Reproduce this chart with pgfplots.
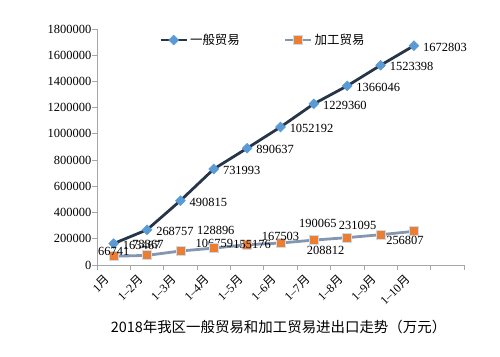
\documentclass[border=0pt]{standalone}
\usepackage{fontspec}
\setmainfont{Liberation Serif}
\newfontfamily\cjk{Noto Sans CJK SC}
\usepackage{pgfplots}
\pgfplotsset{compat=1.18}
\usepackage{pgfplotstable}

\definecolor{gen}{HTML}{263548}
\definecolor{genm}{HTML}{5B9BD5}
\definecolor{proc}{HTML}{8497B0}
\definecolor{procm}{HTML}{ED7D31}
\definecolor{procb}{HTML}{C9DCEF}
\definecolor{axisgray}{HTML}{A6A6A6}

\pgfplotstableread{
x y lab dx dy
0 163467 163467 9 -1.5
1 268757 268757 9 -1.5
2 490815 490815 9 -1.5
3 731993 731993 9 -1.5
4 890637 890637 9 -1.5
5 1052192 1052192 9 -1.5
6 1229360 1229360 9 -1.5
7 1366046 1366046 9 -1.5
8 1523398 1523398 9 -1.5
9 1672803 1672803 9 -1.5
}\gendata

\pgfplotstableread{
x y lab dx dy
0 66741 66741 0 4.5
1 73367 73367 1 11
2 106759 106759 34 7.7
3 128896 128896 2 18
4 155176 155176 5 0
5 167503 167503 0 7
6 190065 190065 4 17
7 208812 208812 -21.6 -12.4
8 231095 231095 -23 9.7
9 256807 256807 -9 -8.6
}\procdata

\begin{document}
\begin{tikzpicture}
\useasboundingbox (-97bp,-92bp) rectangle (403bp,265bp);
\begin{axis}[
  at={(0,0)}, anchor=south west,
  scale only axis,
  width=367bp, height=236bp,
  xmin=-0.5, xmax=10.5,
  ymin=0, ymax=1800000,
  clip=false,
  axis x line*=bottom, axis y line*=left,
  axis line style={axisgray, line width=1bp, -},
  tick style={axisgray, line width=0.8bp},
  tick align=outside,
  major tick length=4.5bp,
  xtick={-0.5,0.5,1.5,2.5,3.5,4.5,5.5,6.5,7.5,8.5,9.5,10.5},
  xticklabels={},
  extra x ticks={0,1,2,3,4,5,6,7,8,9},
  extra x tick labels={1{\cjk 月},1–2{\cjk 月},1–3{\cjk 月},1–4{\cjk 月},1–5{\cjk 月},1–6{\cjk 月},1–7{\cjk 月},1–8{\cjk 月},1–9{\cjk 月},1–10{\cjk 月}},
  extra x tick style={major tick length=0pt},
  xticklabel style={xshift=-10bp, yshift=-8.5bp, rotate=45, anchor=north east, inner sep=0pt, font=\fontsize{12}{14}\selectfont, text=black},
  ytick={0,200000,400000,600000,800000,1000000,1200000,1400000,1600000,1800000},
  yticklabels={0,200000,400000,600000,800000,1000000,1200000,1400000,1600000,1800000},
  yticklabel style={font=\fontsize{12.5}{14}\selectfont, text=black, inner sep=0pt, xshift=-1bp},
  scaled y ticks=false,
  legend columns=2,
  legend style={at={(0.452,0.953)}, anchor=center, draw=none, fill=none,
    font=\cjk\fontsize{12.5}{14}\selectfont,
    /tikz/every even column/.append style={column sep=42bp}},
  legend image code/.code={\draw[mark repeat=2,mark phase=2] plot coordinates {(0bp,0bp) (13bp,0bp) (26bp,0bp)};},
]
\addplot[gen, line width=2.8bp, mark=square*, mark size=3.5bp,
  mark options={fill=genm, draw=genm, rotate=45, line width=0.5bp},
  point meta=explicit symbolic,
  visualization depends on={\thisrow{dx}\as\myDx},
  visualization depends on={\thisrow{dy}\as\myDy},
  nodes near coords,
  every node near coord/.append style={anchor=west, inner sep=0pt, xshift=\myDx bp, yshift=\myDy bp, font=\fontsize{12.5}{14}\selectfont, text=black}
] table[x=x, y=y, meta=lab] {\gendata};
\addlegendentry{一般贸易}
\addplot[proc, line width=2.8bp, mark=square*, mark size=4.5bp,
  mark options={fill=procm, draw=procb, line width=0.8bp},
  point meta=explicit symbolic,
  visualization depends on={\thisrow{dx}\as\myDx},
  visualization depends on={\thisrow{dy}\as\myDy},
  nodes near coords,
  every node near coord/.append style={anchor=center, inner sep=0pt, xshift=\myDx bp, yshift=\myDy bp, font=\fontsize{12.5}{14}\selectfont, text=black}
] table[x=x, y=y, meta=lab] {\procdata};
\addlegendentry{加工贸易}
\end{axis}
\node[font=\cjk\fontsize{14.5}{17}\selectfont, text=black] at (181.5bp,-62bp) {2018年我区一般贸易和加工贸易进出口走势（万元）};
\end{tikzpicture}
\end{document}
